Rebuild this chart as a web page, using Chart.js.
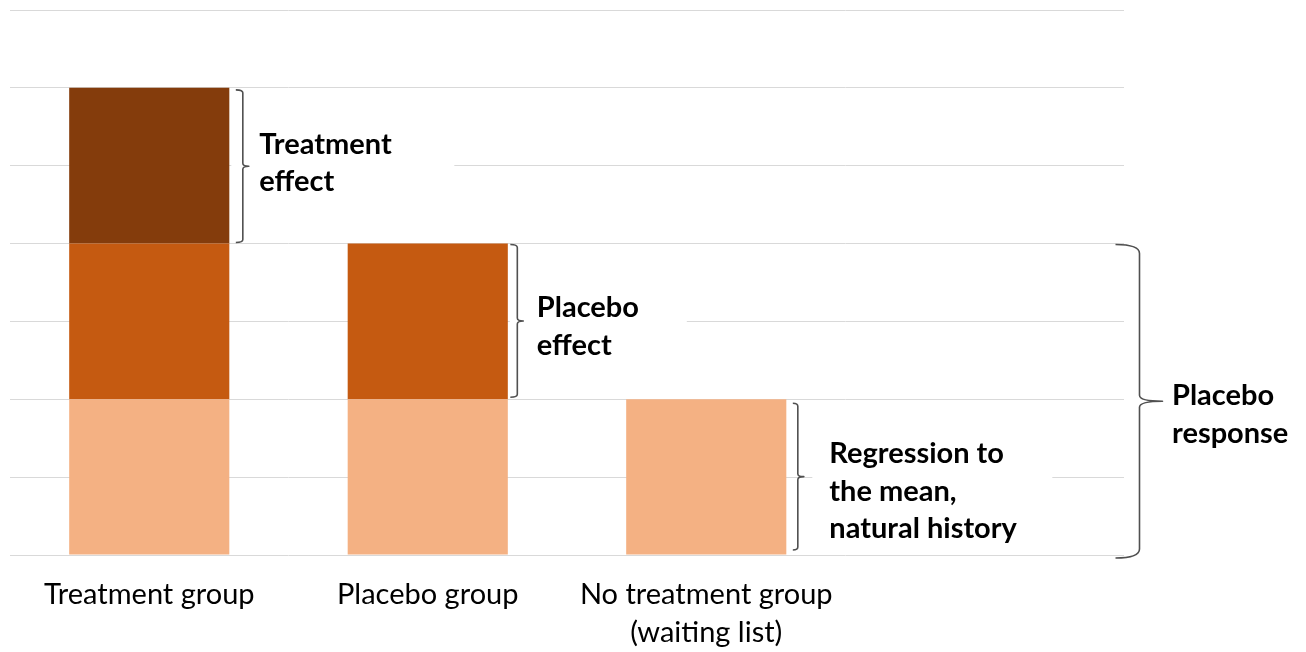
<!DOCTYPE html>
<html>
<head>
<meta charset="utf-8">
<script src="https://cdn.jsdelivr.net/npm/chart.js@4/dist/chart.umd.min.js"></script>
<style>
  html, body { margin: 0; padding: 0; background: #ffffff; }
  #wrap { width: 1306px; height: 652px; }
</style>
</head>
<body>
<div id="wrap"><canvas id="c" width="1306" height="652"></canvas></div>
<script>
// Groups along the x axis (the fourth slot is left empty to leave room for the brace)
const categories = ['Treatment group', 'Placebo group', ['No treatment group', '(waiting list)'], ''];
// Stacked components of the improvement seen in each group
const naturalHistory  = [2, 2, 2, null];
const placeboEffect   = [2, 2, null, null];
const treatmentEffect = [2, null, null, null];
const yMax = 7;

const FONT = 'Lato, "Open Sans", sans-serif';
const TEXT_COLOR = '#000000';
const BRACE_COLOR = '#505050';

function brace(ctx, x, y0, y1, hook, tip, r, rTip) {
  const ym = (y0 + y1) / 2;
  ctx.beginPath();
  ctx.moveTo(x - hook, y0);
  ctx.quadraticCurveTo(x, y0, x, y0 + r);
  ctx.lineTo(x, ym - rTip);
  ctx.quadraticCurveTo(x, ym, x + tip, ym);
  ctx.quadraticCurveTo(x, ym, x, ym + rTip);
  ctx.lineTo(x, y1 - r);
  ctx.quadraticCurveTo(x, y1, x - hook, y1);
  ctx.stroke();
}

// Bracket + caption annotations, positioned from the bars and the value scale
const annotationPlugin = {
  id: 'bracketNotes',
  beforeDatasetsDraw(chart) {
    // white boxes behind the captions hide the gridlines there
    const { ctx, scales: { y } } = chart;
    const meta = chart.getDatasetMeta(0);
    const right = i => meta.data[i].x + meta.data[i].width / 2;
    ctx.save();
    ctx.fillStyle = '#ffffff';
    ctx.fillRect(right(0) + 2, y.getPixelForValue(5.8), 223, y.getPixelForValue(4.2) - y.getPixelForValue(5.8));
    ctx.fillRect(right(1) + 2, y.getPixelForValue(3.8), 177, y.getPixelForValue(2.2) - y.getPixelForValue(3.8));
    ctx.fillRect(right(2) + 26, y.getPixelForValue(1.8), 240, y.getPixelForValue(0.2) - y.getPixelForValue(1.8));
    ctx.restore();
  },
  afterDatasetsDraw(chart) {
    const { ctx, chartArea, scales: { y } } = chart;
    const meta = chart.getDatasetMeta(0);
    const right = i => meta.data[i].x + meta.data[i].width / 2;
    const yp = v => y.getPixelForValue(v);
    const LH = 37.5;

    ctx.save();
    ctx.strokeStyle = BRACE_COLOR;
    ctx.lineWidth = 1.6;
    ctx.lineJoin = 'round';
    brace(ctx, right(0) + 13.5, yp(6) + 2, yp(4) - 1, 7, 6, 3, 3);
    brace(ctx, right(1) + 9.5, yp(4) + 1, yp(2) - 2, 7, 6, 3, 3);
    brace(ctx, right(2) + 11.5, yp(2) + 4, yp(0) - 5, 5, 6, 3, 3);
    brace(ctx, chartArea.right + 15.5, yp(4) + 1, yp(0) + 3, 24, 23, 9, 6);

    ctx.fillStyle = TEXT_COLOR;
    ctx.font = 'bold 29px ' + FONT;
    ctx.textAlign = 'left';
    ctx.textBaseline = 'alphabetic';
    const block = (lines, x, y0) => lines.forEach((t, k) => ctx.fillText(t, x, y0 + k * LH));
    block(['Treatment', 'effect'], right(0) + 30, yp(5) - 12);
    block(['Placebo', 'effect'], right(1) + 29, yp(3) - 4);
    block(['Regression to', 'the mean,', 'natural history'], right(2) + 43, yp(1) - 14);
    block(['Placebo', 'response'], chartArea.right + 48, yp(2) + 6);
    ctx.restore();
  }
};

new Chart(document.getElementById('c'), {
  type: 'bar',
  data: {
    labels: categories,
    datasets: [
      { label: 'Regression to the mean, natural history', data: naturalHistory, backgroundColor: '#F4B183' },
      { label: 'Placebo effect', data: placeboEffect, backgroundColor: '#C55A11' },
      { label: 'Treatment effect', data: treatmentEffect, backgroundColor: '#843C0C' }
    ]
  },
  options: {
    responsive: false,
    animation: false,
    devicePixelRatio: 1,
    layout: { padding: { left: 10, right: 182, top: 10, bottom: 0 } },
    datasets: { bar: { barPercentage: 0.575, categoryPercentage: 1, borderWidth: 0 } },
    plugins: { legend: { display: false }, tooltip: { enabled: false } },
    scales: {
      x: {
        stacked: true,
        grid: { display: false, drawTicks: false },
        border: { display: false },
        ticks: {
          color: TEXT_COLOR,
          padding: 21,
          maxRotation: 0,
          autoSkip: false,
          font: { family: FONT, size: 29, lineHeight: 38 / 29 }
        },
        afterFit(scale) { scale.height = 97; }
      },
      y: {
        stacked: true,
        min: 0,
        max: yMax,
        ticks: { display: false, stepSize: 1 },
        grid: { color: '#D9D9D9', lineWidth: 1, drawTicks: false },
        border: { display: false }
      }
    }
  },
  plugins: [annotationPlugin]
});
</script>
</body>
</html>
